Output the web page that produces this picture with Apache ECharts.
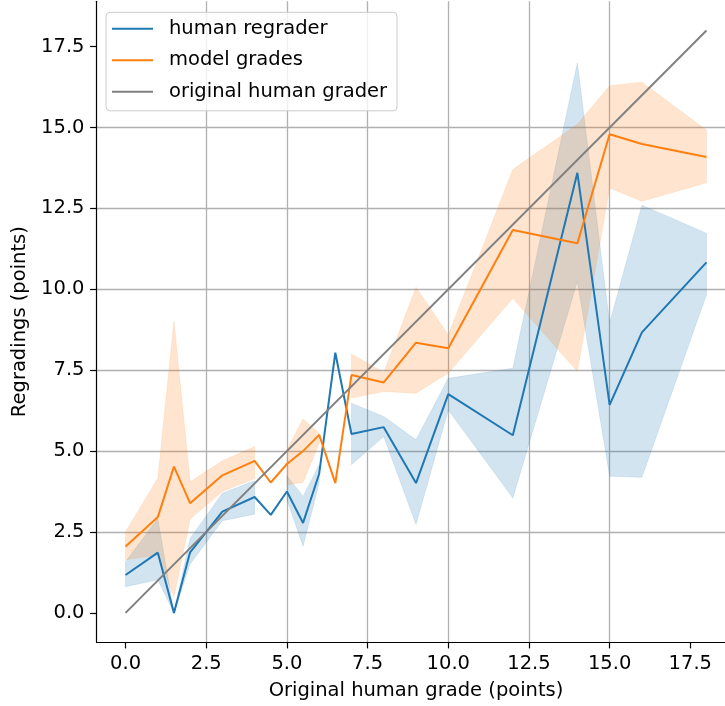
<!DOCTYPE html>
<html>
<head>
<meta charset="utf-8">
<script src="https://cdn.jsdelivr.net/npm/echarts@6/dist/echarts.min.js"></script>
<style>
  html, body { margin: 0; padding: 0; background: #ffffff; overflow: hidden; }
  #chart { width: 760px; height: 706px; }
</style>
</head>
<body>
<div id="chart"></div>
<script>
// ---- data ----
const grades = [0, 1, 1.5, 2, 3, 4, 4.5, 5, 5.5, 6, 6.5, 7, 8, 9, 10, 12, 14, 15, 16, 18];

const humanRegrader = [1.17, 1.86, 0.0, 1.87, 3.13, 3.58, 3.03, 3.75, 2.78, 4.3, 8.04, 5.53, 5.74, 4.01, 6.76, 5.49, 13.6, 6.43, 8.67, 10.83];
const humanLow  = [0.81, 1.02, 0.0, 1.5, 2.85, 3.05, null, 3.5, 2.06, 4.01, null, 4.58, 5.45, 2.73, 6.27, 3.55, 10.24, 4.22, 4.19, 9.83];
const humanHigh = [1.58, 2.92, 0.0, 2.3, 3.7, 4.08, null, 4.24, 3.6, 4.58, null, 6.48, 6.07, 5.35, 7.25, 7.56, 17.0, 8.96, 12.6, 11.73];

const modelGrades = [2.05, 2.96, 4.52, 3.39, 4.25, 4.7, 4.03, 4.6, 5.0, 5.5, 4.01, 7.35, 7.12, 8.35, 8.18, 11.83, 11.42, 14.79, 14.49, 14.09];
const modelLow  = [1.64, 1.79, 0.5, 2.9, 3.75, 4.15, null, 3.96, 4.03, 5.25, null, 6.64, 6.84, 6.79, 7.41, 9.72, 7.46, 13.13, 12.72, 13.29];
const modelHigh = [2.51, 4.16, 9.02, 4.05, 4.7, 5.14, null, 5.04, 5.99, 5.55, null, 8.0, 7.43, 10.06, 8.59, 13.7, 15.1, 16.29, 16.4, 14.92];

const diagonalX = [0, 18];
const diagonalY = [0, 18];

const xTicks = [0, 2.5, 5, 7.5, 10, 12.5, 15, 17.5];
const yTicks = [0, 2.5, 5, 7.5, 10, 12.5, 15, 17.5];

const seriesNames = ['human regrader', 'model grades', 'original human grader'];
const xTitle = 'Original human grade (points)';
const yTitle = 'Regradings (points)';

// ---- helpers ----
function segments(lo, hi) {
  const segs = []; let cur = [];
  for (let i = 0; i < grades.length; i++) {
    if (lo[i] == null || hi[i] == null) { if (cur.length) segs.push(cur); cur = []; }
    else cur.push(i);
  }
  if (cur.length) segs.push(cur);
  return segs;
}

function bandSeries(lo, hi, color) {
  const segs = segments(lo, hi);
  return {
    type: 'custom',
    silent: true,
    z: 1,
    clip: true,
    data: segs.map(s => [grades[s[0]], hi[s[0]]]),
    renderItem: function (params, api) {
      const seg = segs[params.dataIndex];
      const pts = [];
      seg.forEach(i => pts.push(api.coord([grades[i], hi[i]])));
      seg.slice().reverse().forEach(i => pts.push(api.coord([grades[i], lo[i]])));
      return {
        type: 'polygon',
        shape: { points: pts },
        style: { fill: color, stroke: color, lineWidth: 0.6, opacity: 1 }
      };
    }
  };
}

const FONT = 'DejaVu Sans';
const FS = 19.5;

const chart = echarts.init(document.getElementById('chart'), null, { renderer: 'canvas' });

chart.setOption({
  animation: false,
  backgroundColor: '#ffffff',
  textStyle: { fontFamily: FONT },
  grid: { left: 96.5, top: 1.3, width: 639, height: 641.1, containLabel: false },
  legend: {
    orient: 'vertical',
    left: 106,
    top: 12.3,
    padding: [5.5, 10, 8, 6],
    itemGap: 9.5,
    itemWidth: 41,
    itemHeight: 2,
    icon: 'rect',
    backgroundColor: 'rgba(255,255,255,0.8)',
    borderColor: '#cccccc',
    borderWidth: 1,
    borderRadius: 4,
    selectedMode: false,
    data: seriesNames,
    textStyle: { fontFamily: FONT, fontSize: FS, color: '#000000', lineHeight: 22, padding: [0, 0, 0, 11] }
  },
  xAxis: {
    type: 'value',
    min: -0.9,
    max: 18.9,
    minInterval: 2.5,
    maxInterval: 2.5,
    name: xTitle,
    nameLocation: 'middle',
    nameGap: 39,
    nameTextStyle: { fontFamily: FONT, fontSize: FS, color: '#000000' },
    axisLine: { show: true, onZero: false, lineStyle: { color: '#000000', width: 1.2 } },
    axisTick: { show: true, length: 6.4, customValues: xTicks, lineStyle: { color: '#000000', width: 1.2 } },
    axisLabel: {
      customValues: xTicks,
      margin: 12,
      fontFamily: FONT, fontSize: FS, color: '#000000',
      formatter: v => Number(v).toFixed(1)
    },
    splitLine: { show: true, showMinLine: false, showMaxLine: false, lineStyle: { color: '#b0b0b0', width: 1.3 } }
  },
  yAxis: {
    type: 'value',
    min: -0.9,
    max: 18.9,
    minInterval: 2.5,
    maxInterval: 2.5,
    name: yTitle,
    nameLocation: 'middle',
    nameGap: 62,
    nameTextStyle: { fontFamily: FONT, fontSize: FS, color: '#000000' },
    axisLine: { show: true, onZero: false, lineStyle: { color: '#000000', width: 1.2 } },
    axisTick: { show: true, length: 6.4, customValues: yTicks, lineStyle: { color: '#000000', width: 1.2 } },
    axisLabel: {
      customValues: yTicks,
      margin: 12,
      fontFamily: FONT, fontSize: FS, color: '#000000',
      formatter: v => Number(v).toFixed(1)
    },
    splitLine: { show: true, showMinLine: false, showMaxLine: false, lineStyle: { color: '#b0b0b0', width: 1.3 } }
  },
  series: [
    bandSeries(humanLow, humanHigh, 'rgba(31,119,180,0.2)'),
    bandSeries(modelLow, modelHigh, 'rgba(255,127,14,0.2)'),
    {
      name: seriesNames[0],
      type: 'line',
      z: 3,
      showSymbol: false,
      symbol: 'none',
      color: '#1f77b4',
      lineStyle: { color: '#1f77b4', width: 2 },
      data: grades.map((g, i) => [g, humanRegrader[i]])
    },
    {
      name: seriesNames[1],
      type: 'line',
      z: 4,
      showSymbol: false,
      symbol: 'none',
      color: '#ff7f0e',
      lineStyle: { color: '#ff7f0e', width: 2 },
      data: grades.map((g, i) => [g, modelGrades[i]])
    },
    {
      name: seriesNames[2],
      type: 'line',
      z: 5,
      showSymbol: false,
      symbol: 'none',
      color: '#808080',
      lineStyle: { color: '#808080', width: 2 },
      data: diagonalX.map((x, i) => [x, diagonalY[i]])
    }
  ]
});
</script>
</body>
</html>
